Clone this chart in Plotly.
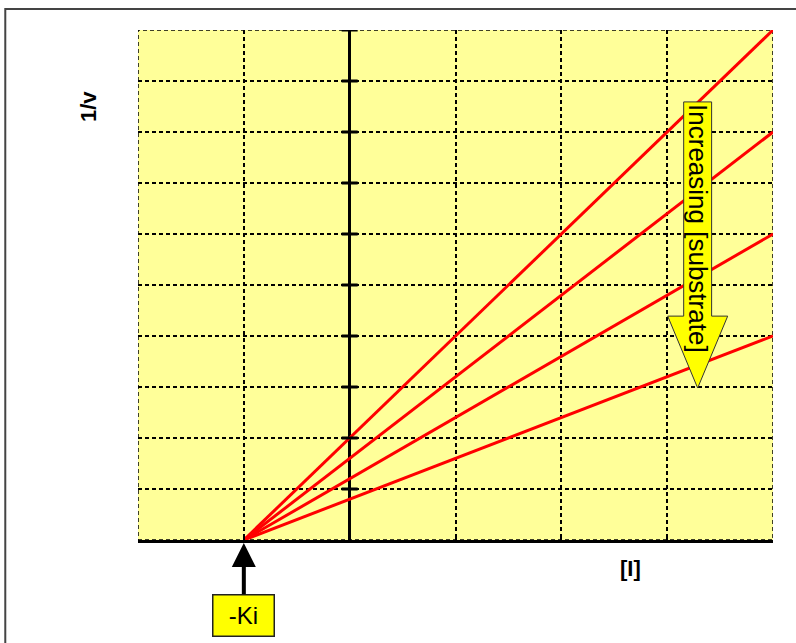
import plotly.graph_objects as go

# inhibitor concentration axis [I] and 1/v values for each substrate level
inhibitor = [-1, 4]
inv_rate = {
    'low': [0, 10],
    'mid-low': [0, 8],
    'mid-high': [0, 6],
    'high': [0, 4],
}
x_ticks = [-2, -1, 0, 1, 2, 3, 4]
y_ticks = [0, 1, 2, 3, 4, 5, 6, 7, 8, 9, 10]
ki_value = -1

fig = go.Figure()
for name, ys in inv_rate.items():
    fig.add_scatter(x=inhibitor, y=ys, mode='lines', name=name,
                    line=dict(color='#FF0000', width=3), showlegend=False)

# axes
grid = dict(showgrid=True, gridcolor='black', gridwidth=1.5, griddash='4px,3px')
fig.update_layout(
    xaxis=dict(range=[x_ticks[0], x_ticks[-1]], tickvals=x_ticks, showticklabels=False,
               zeroline=True, zerolinecolor='black', zerolinewidth=3,
               showline=True, linecolor='black', linewidth=3,
               ticks='inside', ticklen=5, tickwidth=2, tickcolor='black', **grid),
    yaxis=dict(range=[y_ticks[0], y_ticks[-1]], tickvals=y_ticks, showticklabels=False,
               zeroline=False, showline=False, ticks='', **grid),
)

# cross ticks on the 1/v axis (x = 0)
for yt in y_ticks[1:]:
    fig.add_shape(type='line', xref='x', yref='y', xsizemode='pixel', xanchor=0,
                  x0=-8, x1=8, y0=yt, y1=yt, line=dict(color='black', width=3))

# dashed border round the plotting area
fig.add_shape(type='rect', xref='x', yref='y', x0=x_ticks[0], x1=x_ticks[-1],
              y0=y_ticks[0], y1=y_ticks[-1],
              line=dict(color='black', width=1.5, dash='4px,3px'), layer='below')

# outer frame
fig.add_shape(type='rect', xref='paper', yref='paper', x0=-0.209, x1=1.05,
              y0=-0.25, y1=1.041, line=dict(color='#444444', width=2))

# block arrow "Increasing [substrate]"
fig.add_shape(type='path', xref='x', yref='y',
              path='M 3.156 8.59 L 3.42 8.59 L 3.42 4.39 L 3.572 4.39 '
                   'L 3.288 2.98 L 3.005 4.39 L 3.156 4.39 Z',
              fillcolor='#FFFF00', line=dict(color='#333333', width=1))
fig.add_annotation(x=3.29, y=6.1, xref='x', yref='y', text='Increasing [substrate]',
                   textangle=90, showarrow=False,
                   font=dict(family='Liberation Sans, Arial', size=26, color='black'))

# -Ki marker
fig.add_annotation(x=ki_value, y=0, xref='x', yref='y', text='-Ki',
                   showarrow=True, ax=0, ay=75, arrowhead=2, arrowsize=1.2,
                   arrowwidth=4, arrowcolor='black', standoff=3,
                   bgcolor='#FFFF00', bordercolor='#222222', borderwidth=1.5,
                   width=58, height=38, borderpad=1,
                   font=dict(family='Liberation Sans, Arial', size=24, color='black'))

# axis titles
fig.add_annotation(x=-0.0787, y=0.849, xref='paper', yref='paper', text='<b>1/v</b>',
                   textangle=-90, showarrow=False, xanchor='center', yanchor='middle',
                   font=dict(family='Liberation Sans, Arial', size=22, color='black'))
fig.add_annotation(x=0.776, y=-0.055, xref='paper', yref='paper', text='<b>[I]</b>',
                   showarrow=False, xanchor='center', yanchor='middle',
                   font=dict(family='Liberation Sans, Arial', size=22, color='black'))

fig.update_layout(
    width=796, height=643,
    margin=dict(l=138, r=23, t=30, b=103),
    paper_bgcolor='white',
    plot_bgcolor='#FFFF99',
    showlegend=False,
    font_family='Liberation Sans, Arial',
)

fig.write_html('out.html', config={'displayModeBar': False},
               post_script="document.body.style.margin='0';")
